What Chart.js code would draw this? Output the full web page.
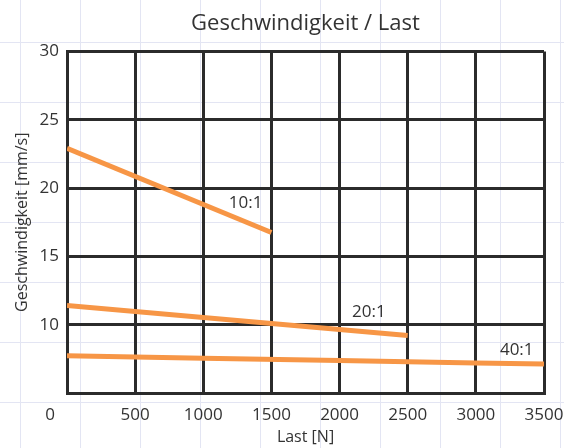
<!DOCTYPE html>
<html>
<head>
<meta charset="utf-8">
<script src="https://cdn.jsdelivr.net/npm/chart.js@4"></script>
<style>
  body {
    margin: 0;
    background-color: #fff;
    background-image:
      linear-gradient(to right, #e3e5f3 1px, transparent 1px),
      linear-gradient(to bottom, #e3e5f3 1px, transparent 1px);
    background-size: 60px 60px;
    background-position: 20px 42px;
  }
  #wrap { width: 564px; height: 448px; }
</style>
</head>
<body>
<div id="wrap"><canvas id="chart"></canvas></div>
<script>
// values
const xTicks = [0, 500, 1000, 1500, 2000, 2500, 3000, 3500];
const yTicks = [5, 10, 15, 20, 25, 30];

const seriesNames = ["10:1", "20:1", "40:1"];
const load10 = [0, 1500];
const speed10 = [22.9, 16.75];
const load20 = [0, 2500];
const speed20 = [11.4, 9.2];
const load40 = [0, 1000, 2000, 3000, 3500];
const speed40 = [7.72, 7.55, 7.38, 7.2, 7.13];

// where the ratio labels sit, in data units
const labelLoad = [1310, 2215, 3300];
const labelSpeed = [18.9, 10.95, 8.15];

const ORANGE = "#f79646";
const INK = "#2b2b2b";
const TEXT = "#333";
const FONT = "'Open Sans', sans-serif";
const TICK_PAD = 12;

function toPoints(xs, ys) {
  return xs.map((x, i) => ({ x: x, y: ys[i] }));
}

const seriesData = [toPoints(load10, speed10), toPoints(load20, speed20), toPoints(load40, speed40)];

const labelPlugin = {
  id: "ratioLabels",
  afterDatasetsDraw(chart) {
    const ctx = chart.ctx;
    const xs = chart.scales.x, ys = chart.scales.y;
    ctx.save();
    ctx.fillStyle = TEXT;
    ctx.font = "17px " + FONT;
    ctx.textAlign = "center";
    ctx.textBaseline = "middle";
    seriesNames.forEach((name, i) => {
      ctx.fillText(name, xs.getPixelForValue(labelLoad[i]), ys.getPixelForValue(labelSpeed[i]));
    });
    // the "0" of the load axis sits left of the corner
    ctx.fillText(String(xTicks[0]), xs.getPixelForValue(xTicks[0]) - 17, chart.chartArea.bottom + TICK_PAD + 10);
    ctx.restore();
  }
};

new Chart(document.getElementById("chart"), {
  type: "scatter",
  data: {
    datasets: seriesData.map((pts, i) => ({
      label: seriesNames[i],
      data: pts,
      showLine: true,
      borderColor: ORANGE,
      borderWidth: 5,
      pointRadius: 0,
      borderCapStyle: "butt",
      fill: false
    }))
  },
  options: {
    responsive: true,
    maintainAspectRatio: false,
    animation: false,
    layout: { padding: { left: 0, right: 20, top: 0, bottom: 0 } },
    plugins: {
      legend: { display: false },
      tooltip: { enabled: false },
      title: {
        display: true,
        text: "Geschwindigkeit / Last",
        fullSize: false,
        color: TEXT,
        font: { family: FONT, size: 22, weight: "normal" },
        padding: { top: 11, bottom: 14 }
      }
    },
    scales: {
      x: {
        type: "linear",
        min: xTicks[0],
        max: xTicks[xTicks.length - 1],
        afterBuildTicks: s => { s.ticks = xTicks.map(v => ({ value: v })); },
        afterFit: s => { s.height = 55; s.paddingRight = 0; s.paddingLeft = 0; },
        ticks: {
          color: TEXT,
          font: { family: FONT, size: 17 },
          padding: TICK_PAD,
          maxRotation: 0,
          callback: v => (v === 0 ? "" : v)
        },
        grid: { color: INK, lineWidth: 3, drawTicks: false },
        border: { display: true, color: INK, width: 3 },
        title: {
          display: true,
          text: "Last [N]",
          color: TEXT,
          font: { family: FONT, size: 16 },
          padding: { top: 0, bottom: 1 }
        }
      },
      y: {
        type: "linear",
        min: yTicks[0],
        max: yTicks[yTicks.length - 1],
        afterBuildTicks: s => { s.ticks = yTicks.map(v => ({ value: v })); },
        afterFit: s => { s.width = 67; },
        ticks: {
          color: TEXT,
          font: { family: FONT, size: 17 },
          padding: 8,
          callback: v => (v === 5 ? "" : v)
        },
        grid: { color: INK, lineWidth: 3, drawTicks: false },
        border: { display: true, color: INK, width: 3 },
        title: {
          display: true,
          text: "Geschwindigkeit [mm/s]",
          color: TEXT,
          font: { family: FONT, size: 16 },
          padding: { top: 13, bottom: 0 }
        }
      }
    }
  },
  plugins: [labelPlugin]
});
</script>
</body>
</html>
